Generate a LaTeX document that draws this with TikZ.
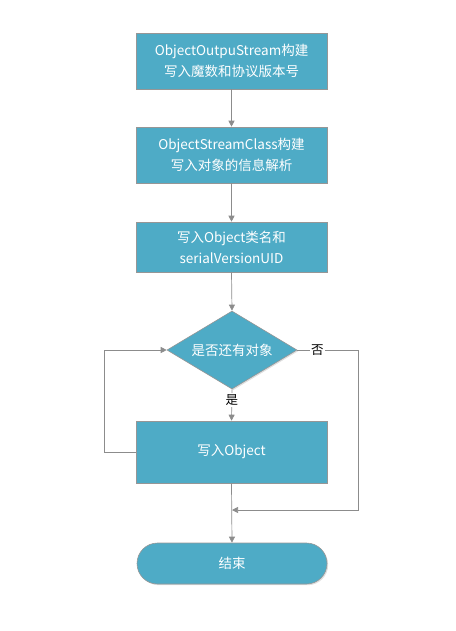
\documentclass[tikz,border=0pt]{standalone}
\usepackage{fontspec}
\setmainfont{Noto Sans CJK SC}
\usetikzlibrary{arrows.meta,shapes.geometric,shadows}
\definecolor{boxfill}{RGB}{78,171,198}
\definecolor{boxline}{RGB}{150,150,150}
\definecolor{conn}{RGB}{140,140,140}
\begin{document}
\begin{tikzpicture}[x=1pt,y=-1pt,
  base/.style={draw=boxline,line width=0.6pt,fill=boxfill,text=white,
    font=\fontsize{13.5}{21}\selectfont,align=center,inner sep=0pt,
    drop shadow={opacity=0.25,shadow xshift=1.2pt,shadow yshift=-1.2pt}},
  procbox/.style={base,rectangle,minimum width=191pt},
  decbox/.style={base,diamond,minimum width=130pt,minimum height=78pt,aspect=1.67},
  termbox/.style={base,rectangle,rounded corners=20.5pt,minimum width=190pt,minimum height=41pt},
  conline/.style={draw=conn,line width=0.7pt,-{Triangle[length=6pt,width=6pt]}},
  lbl/.style={font=\fontsize{12.5}{14}\selectfont,text=black,inner sep=1.5pt}]
\useasboundingbox (0,0) rectangle (455,631);
\node[procbox,minimum height=56pt] (b1) at (231.5,61) {ObjectOutpuStream构建\\写入魔数和协议版本号};
\node[procbox,minimum height=56pt] (b2) at (231.5,155) {ObjectStreamClass构建\\写入对象的信息解析};
\node[procbox,minimum height=50pt] (b3) at (231.5,247) {写入Object类名和\\serialVersionUID};
\node[decbox] (d) at (232,350) {是否还有对象};
\node[procbox,minimum height=62pt] (b4) at (231.5,452) {写入Object};
\node[termbox] (e) at (232,563.5) {结束};
\coordinate (m) at (232,510);
\draw[conline] (b1.south) -- (b2.north);
\draw[conline] (b2.south) -- (b3.north);
\draw[conline] (b3.south) -- (d.north);
\draw[conline] (d.south) -- node[lbl,pos=0.35,fill=white] (yes) {是} (b4.north);
\draw[conline] (b4.west) -- (104,452) -- (104,350) -- (d.west);
\draw[conline] (d.east) -- node[lbl,pos=0.33,fill=white] (no) {否} (358,350) -- (358,510) -- (m);
\draw[conline] (b4.south) -- (e.north);
\end{tikzpicture}
\end{document}
